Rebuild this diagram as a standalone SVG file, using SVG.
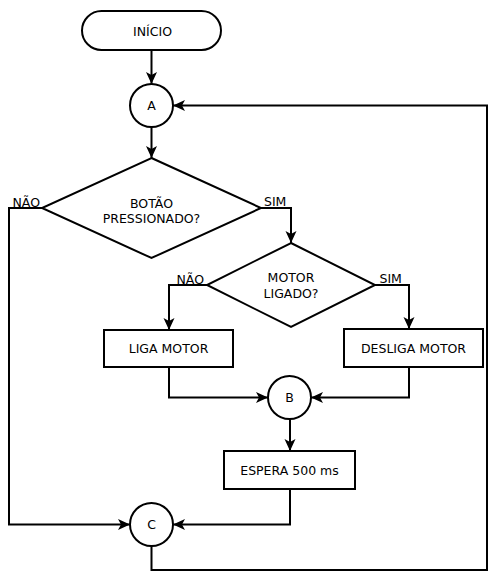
<svg xmlns="http://www.w3.org/2000/svg" width="495" height="579" viewBox="0 0 495 579">
<defs>
<marker id="arr" markerUnits="userSpaceOnUse" markerWidth="14" markerHeight="14" viewBox="0 0 14 14" refX="13" refY="7" orient="auto">
<path d="M1,1.5 L13,7 L1,12.5 L4,7 z" fill="#000"/>
</marker>
<style>
.s{fill:#fff;stroke:#000;stroke-width:2}
.c{fill:none;stroke:#000;stroke-width:2;marker-end:url(#arr)}
text{font-family:"DejaVu Sans",sans-serif;font-size:12.5px;fill:#000;text-anchor:middle;dominant-baseline:central}
text.l{text-anchor:start;dominant-baseline:alphabetic}
</style>
</defs>
<rect width="495" height="579" fill="#fff"/>
<g id="connectors">
<path class="c" d="M151.5,50 V84"/>
<path class="c" d="M151.5,127 V158"/>
<path class="c" d="M261,208 H291 V243"/>
<path class="c" d="M42,208 H9 V524.5 H130"/>
<path class="c" d="M207,285 H169 V330"/>
<path class="c" d="M375,285 H409 V329"/>
<path class="c" d="M169,367 V397.5 H268"/>
<path class="c" d="M409,367 V397.5 H311"/>
<path class="c" d="M290,419 V451"/>
<path class="c" d="M290,489 V524.5 H173"/>
<path class="c" d="M151.5,546 V570 H487 V105.5 H173"/>
<text class="l" x="12.5" y="206.5">NÃO</text>
<text class="l" x="264" y="206">SIM</text>
<text class="l" x="176.5" y="283.5">NÃO</text>
<text class="l" x="379.5" y="282.5">SIM</text>
</g>
<g id="inicio">
<rect class="s" x="82" y="11" width="139" height="39" rx="19.5"/>
<text x="152.5" y="31">INÍCIO</text>
</g>
<g id="A">
<circle class="s" cx="151.5" cy="105.5" r="21.5"/>
<text x="151.5" y="105.5">A</text>
</g>
<g id="botao">
<path class="s" d="M151.5,158 L261,208 L151.5,258 L42,208 Z"/>
<text x="151.5" y="203">BOTÃO</text>
<text x="151.5" y="218">PRESSIONADO?</text>
</g>
<g id="motor">
<path class="s" d="M291,243 L375,285 L291,327 L207,285 Z"/>
<text x="291" y="277.5">MOTOR</text>
<text x="291" y="293">LIGADO?</text>
</g>
<g id="liga">
<rect class="s" x="104" y="330" width="129" height="37"/>
<text x="168.5" y="348.5">LIGA MOTOR</text>
</g>
<g id="desliga">
<rect class="s" x="344" y="329" width="139" height="38"/>
<text x="413.5" y="348">DESLIGA MOTOR</text>
</g>
<g id="B">
<circle class="s" cx="289.5" cy="397.5" r="21.5"/>
<text x="289.5" y="397.5">B</text>
</g>
<g id="espera">
<rect class="s" x="224" y="451" width="131" height="38"/>
<text x="289.5" y="470.5">ESPERA 500 ms</text>
</g>
<g id="C">
<circle class="s" cx="151.5" cy="524.5" r="21.5"/>
<text x="151.5" y="524.5">C</text>
</g>
</svg>
